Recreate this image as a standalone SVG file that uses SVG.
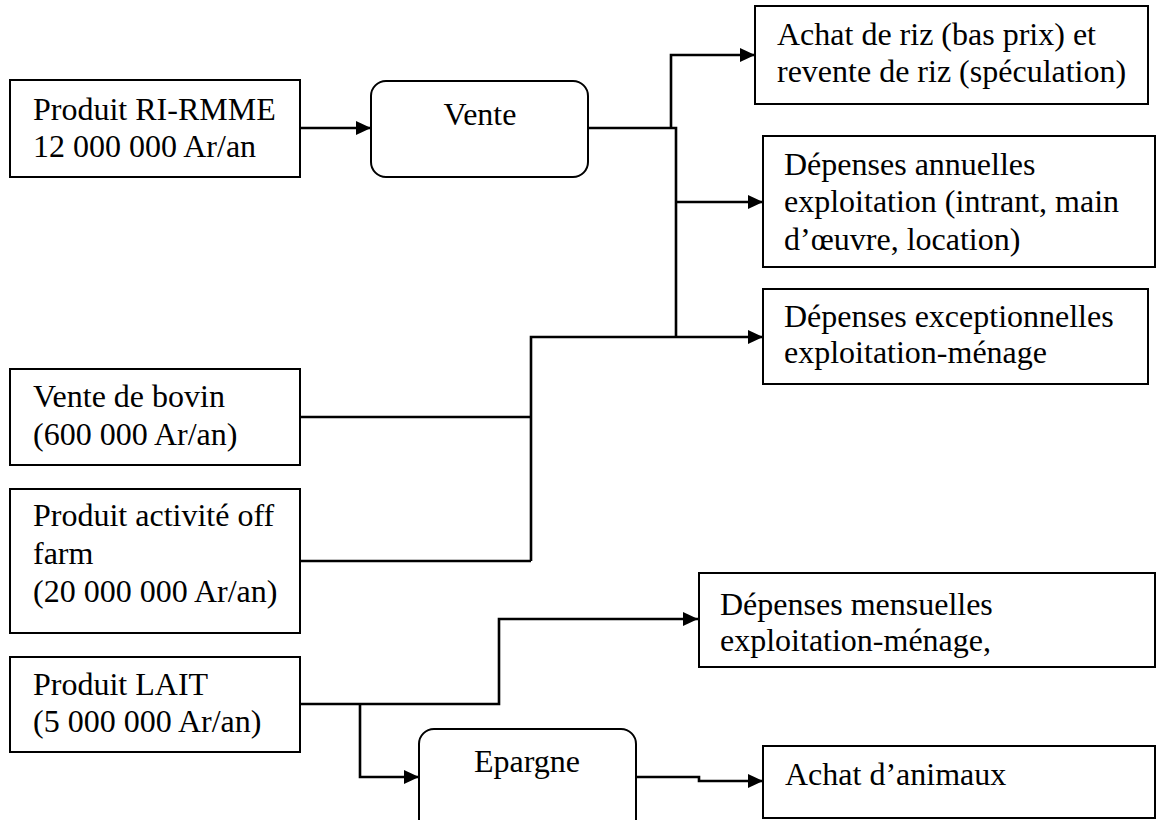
<svg xmlns="http://www.w3.org/2000/svg" width="1157" height="820" viewBox="0 0 1157 820">
<style>
.box{fill:#fff;stroke:#000;stroke-width:2}
.t{font-family:"Liberation Serif","Times New Roman",serif;font-size:32px;fill:#000}
.c{text-anchor:middle}
.ln{fill:none;stroke:#000;stroke-width:2.6}
</style>
<defs>
<marker id="ah" markerUnits="userSpaceOnUse" markerWidth="16" markerHeight="16" refX="15" refY="7" orient="auto">
<path d="M0,0 L15,7 L0,14 z" fill="#000"/>
</marker>
</defs>
<rect width="1157" height="820" fill="#fff"/>
<g id="connectors">
<path class="ln" d="M300,128 H371" marker-end="url(#ah)"/>
<path class="ln" d="M588,128 H676 V337"/>
<path class="ln" d="M671,128 V55 H755" marker-end="url(#ah)"/>
<path class="ln" d="M676,202 H763" marker-end="url(#ah)"/>
<path class="ln" d="M531,561 V337 H763" marker-end="url(#ah)"/>
<path class="ln" d="M300,417 H531"/>
<path class="ln" d="M300,561 H531"/>
<path class="ln" d="M300,704 H499 V619 H698" marker-end="url(#ah)"/>
<path class="ln" d="M360,704 V777 H419" marker-end="url(#ah)"/>
<path class="ln" d="M636,777 H699 V781 H763" marker-end="url(#ah)"/>
</g>
<g id="ri">
<rect class="box" x="10" y="80" width="290" height="97"/>
<text class="t" x="33" y="120">Produit RI-RMME</text>
<text class="t" x="33" y="157">12 000 000 Ar/an</text>
</g>
<g id="vente">
<rect class="box" x="371" y="81" width="217" height="96" rx="15"/>
<text class="t c" x="480" y="125">Vente</text>
</g>
<g id="achat-riz">
<rect class="box" x="755" y="6" width="393" height="98"/>
<text class="t" x="777" y="45">Achat de riz (bas prix) et</text>
<text class="t" x="777" y="82">revente de riz (spéculation)</text>
</g>
<g id="dep-annuelles">
<rect class="box" x="763" y="136" width="392" height="131"/>
<text class="t" x="784" y="175">Dépenses annuelles</text>
<text class="t" x="784" y="212">exploitation (intrant, main</text>
<text class="t" x="784" y="250">d’œuvre, location)</text>
</g>
<g id="dep-exceptionnelles">
<rect class="box" x="763" y="289" width="385" height="95"/>
<text class="t" x="784" y="327">Dépenses exceptionnelles</text>
<text class="t" x="784" y="363">exploitation-ménage</text>
</g>
<g id="bovin">
<rect class="box" x="10" y="369" width="290" height="96"/>
<text class="t" x="33" y="407">Vente de bovin</text>
<text class="t" x="33" y="445">(600 000 Ar/an)</text>
</g>
<g id="offfarm">
<rect class="box" x="10" y="489" width="290" height="144"/>
<text class="t" x="33" y="526">Produit activité off</text>
<text class="t" x="33" y="564">farm</text>
<text class="t" x="33" y="602">(20 000 000 Ar/an)</text>
</g>
<g id="lait">
<rect class="box" x="10" y="657" width="290" height="95"/>
<text class="t" x="33" y="695">Produit LAIT</text>
<text class="t" x="33" y="732">(5 000 000 Ar/an)</text>
</g>
<g id="dep-mensuelles">
<rect class="box" x="699" y="573" width="456" height="94"/>
<text class="t" x="720" y="615">Dépenses mensuelles</text>
<text class="t" x="720" y="651">exploitation-ménage,</text>
</g>
<g id="epargne">
<rect class="box" x="419" y="729" width="217" height="110" rx="15"/>
<text class="t c" x="527" y="772">Epargne</text>
</g>
<g id="achat-animaux">
<rect class="box" x="763" y="746" width="392" height="72"/>
<text class="t" x="785" y="785">Achat d’animaux</text>
</g>
</svg>
